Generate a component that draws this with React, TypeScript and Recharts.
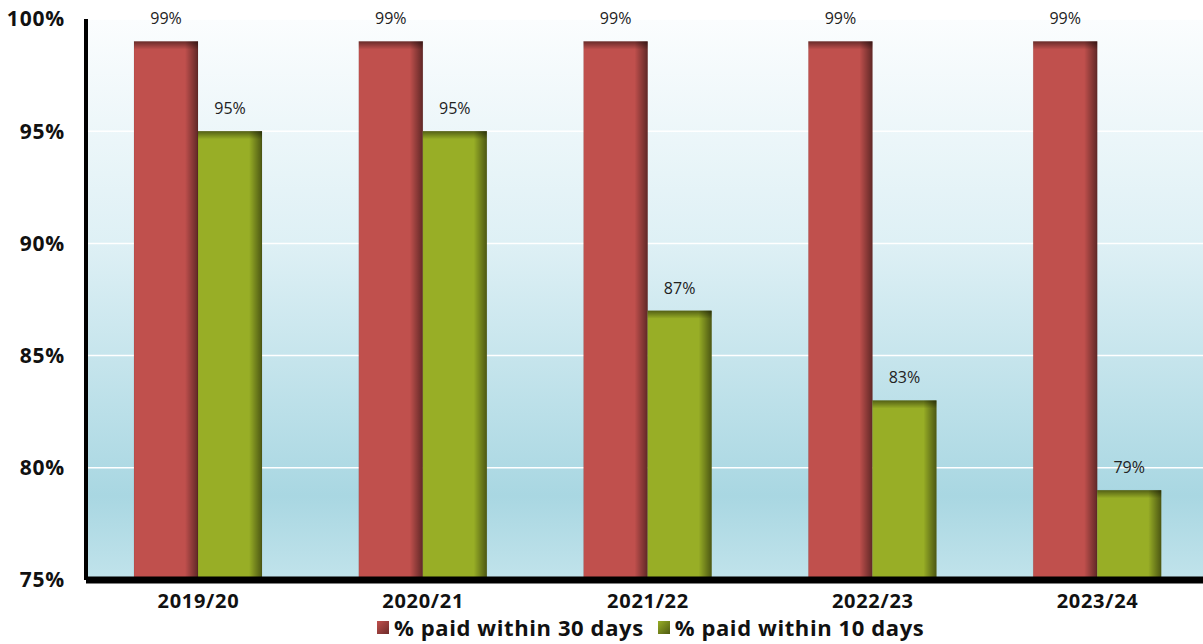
import { BarChart, Bar, XAxis, YAxis, CartesianGrid, LabelList, Legend } from "recharts";

const years = ["2019/20", "2020/21", "2021/22", "2022/23", "2023/24"];
const paid30 = [99, 99, 99, 99, 99];
const paid10 = [95, 95, 87, 83, 79];
const yTicks = [75, 80, 85, 90, 95, 100];

const series = [
  { key: "paid30", name: "% paid within 30 days", color: "#c0504d", dark: "#6e2c2a" },
  { key: "paid10", name: "% paid within 10 days", color: "#98ae26", dark: "#4e5a12" },
];

const data = years.map((year, i) => ({ year, paid30: paid30[i], paid10: paid10[i] }));

const FONT = "'Open Sans', 'DejaVu Sans', sans-serif";

// bar with darkened top and right edge, like the bevel in the original
const ShadedBar = (props: any) => {
  const { x, y, width, height, fill } = props;
  if (!height || height <= 0) return null;
  const side = Math.min(13, width / 4);
  const top = Math.min(8, height / 2);
  return (
    <g>
      <rect x={x} y={y} width={width} height={height} fill={fill} />
      <rect x={x + width - side} y={y} width={side} height={height} fill="url(#sideShade)" />
      <rect x={x} y={y} width={width} height={top} fill="url(#topShade)" />
      <rect x={x} y={y} width={width} height={height} fill="none" stroke="rgba(0,0,0,0.12)" strokeWidth={0.6} />
    </g>
  );
};

const renderLegend = () => (
  <div
    style={{
      display: "flex",
      justifyContent: "flex-start",
      alignItems: "center",
      height: 34,
      fontFamily: FONT,
      fontWeight: 700,
      fontSize: 22,
      letterSpacing: 0.6,
      color: "#111",
      paddingLeft: 377,
    }}
  >
    {series.map((s) => (
      <div key={s.key} style={{ display: "flex", alignItems: "center", marginRight: 14 }}>
        <span
          style={{
            display: "inline-block",
            width: 12,
            height: 13,
            marginRight: 5,
            background: `linear-gradient(135deg, ${s.color}, ${s.dark})`,
          }}
        />
        <span>{s.name}</span>
      </div>
    ))}
  </div>
);

export default function App() {
  return (
    <div style={{ position: "absolute", left: 0, top: 0, width: 1203, height: 644, overflow: "hidden", background: "#fff" }}>
      <BarChart
        width={1210}
        height={644}
        data={data}
        margin={{ top: 19, right: 0, left: 0, bottom: 0 }}
        barGap={0}
        barSize={64}
      >
        <defs>
          <linearGradient id="bgGrad" x1="0" y1="0" x2="0" y2="1">
            <stop offset="0%" stopColor="#fbfdfe" />
            <stop offset="40%" stopColor="#def0f5" />
            <stop offset="85%" stopColor="#a9d7e2" />
            <stop offset="100%" stopColor="#c1e3eb" />
          </linearGradient>
          <linearGradient id="sideShade" x1="0" y1="0" x2="1" y2="0">
            <stop offset="0%" stopColor="#000" stopOpacity={0} />
            <stop offset="100%" stopColor="#000" stopOpacity={0.5} />
          </linearGradient>
          <linearGradient id="topShade" x1="0" y1="0" x2="0" y2="1">
            <stop offset="0%" stopColor="#000" stopOpacity={0.45} />
            <stop offset="100%" stopColor="#000" stopOpacity={0} />
          </linearGradient>
        </defs>
        <CartesianGrid vertical={false} stroke="#ffffff" strokeWidth={1.5} fill="url(#bgGrad)" fillOpacity={1} />
        <XAxis
          dataKey="year"
          height={30}
          axisLine={{ stroke: "#000", strokeWidth: 7 }}
          tickLine={false}
          tickSize={6}
          tickMargin={8}
          tick={{ fontFamily: FONT, fontWeight: 700, fontSize: 20, fill: "#111", letterSpacing: 0.7 }}
        />
        <YAxis
          width={86}
          domain={[75, 100]}
          ticks={yTicks}
          allowDataOverflow
          tickFormatter={(v: number) => `${v}%`}
          axisLine={{ stroke: "#000", strokeWidth: 4 }}
          tickLine={false}
          tickSize={6}
          tickMargin={15}
          tick={{ fontFamily: FONT, fontWeight: 700, fontSize: 21, fill: "#111", letterSpacing: 0.8 }}
        />
        <Legend verticalAlign="bottom" height={34} content={renderLegend} />
        {series.map((s) => (
          <Bar
            key={s.key}
            dataKey={s.key}
            name={s.name}
            fill={s.color}
            shape={ShadedBar}
            isAnimationActive={false}
          >
            <LabelList
              dataKey={s.key}
              position="top"
              offset={17}
              formatter={(v: any) => `${v}%`}
              style={{ fontFamily: FONT, fontSize: 16, fill: "#222" }}
            />
          </Bar>
        ))}
      </BarChart>
    </div>
  );
}
